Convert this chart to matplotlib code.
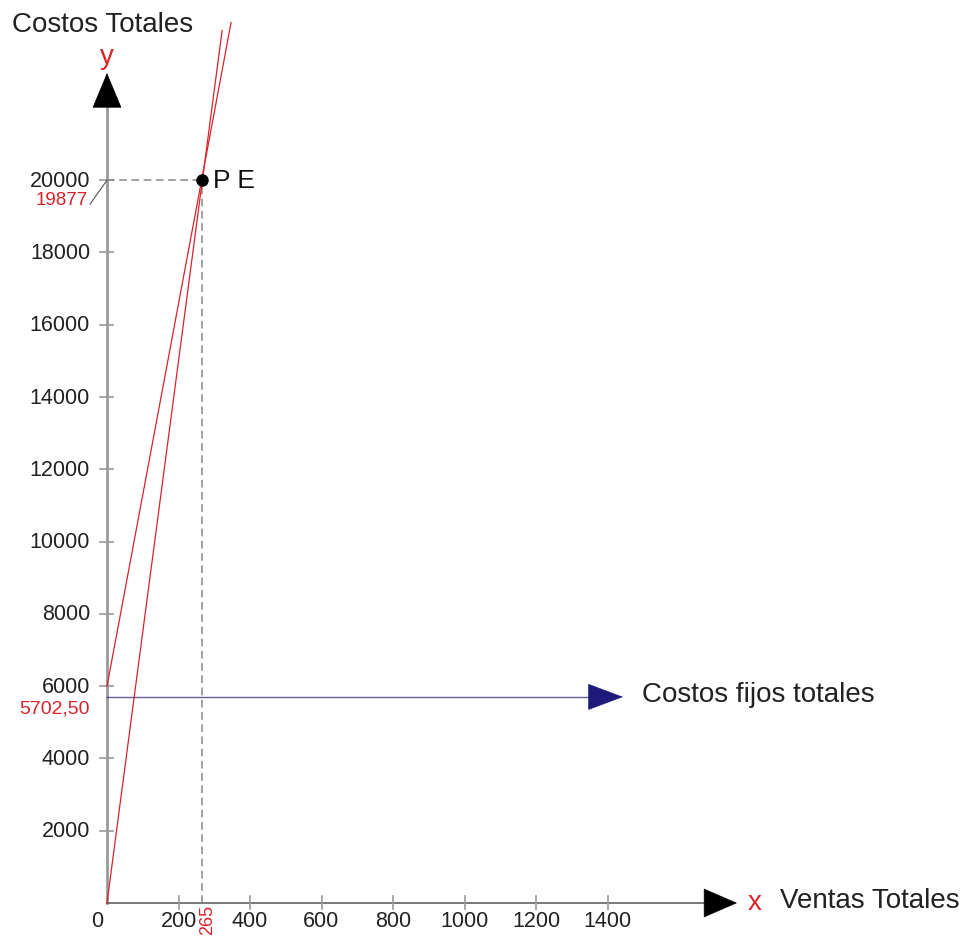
import matplotlib.pyplot as plt

plt.rcParams['font.family'] = ['Liberation Sans', 'DejaVu Sans']

# ---- data ----
x_ticks = [200, 400, 600, 800, 1000, 1200, 1400]
y_ticks = [2000, 4000, 6000, 8000, 10000, 12000, 14000, 16000, 18000, 20000]

costos_fijos = 5702.50          # labelled value of fixed costs
pe_x, pe_y = 265, 19877         # break-even point (labelled)
pe_mark_y = 20000               # where the dot / dashed guide is drawn

# the two red lines (start and end as drawn)
ingresos_x = [0, 322]
ingresos_y = [0, 24140]
costos_x = [0, 347]
costos_y = [6000, 24360]

RED = '#d8232a'
GREY = '#9a9a9a'
NAVY = '#1e1a7a'

# pixel scale of the drawing: origin at (107, 904) px
kx = 0.3575
ky = 0.03614
W, H = 966, 937
ox, oy = 107, H - 904

fig = plt.figure(figsize=(W / 100, H / 100), dpi=100)
ax = fig.add_axes([0, 0, 1, 1])
ax.set_xlim(-ox / kx, (W - ox) / kx)
ax.set_ylim(-oy / ky, (H - oy) / ky)
ax.axis('off')

def px(dx):   # pixel offset in x -> data
    return dx / kx

def py(dy):   # pixel offset in y -> data
    return dy / ky

# ---- axes with arrows ----
y_top = py(904 - 99)
x_end = px(713 - 107)
ax.plot([0, 0], [0, y_top], color=GREY, lw=2, zorder=2)
ax.plot([0, x_end], [0, 0], color='#555555', lw=1.1, zorder=2)
ax.annotate('', xy=(0, py(904 - 74)), xytext=(0, y_top - py(2)),
            arrowprops=dict(arrowstyle='-|>,head_length=1.2,head_width=0.5',
                            color='black', lw=0.5, mutation_scale=20,
                            shrinkA=0, shrinkB=0))
ax.annotate('', xy=(px(737 - 107), 0), xytext=(x_end - px(2), 0),
            arrowprops=dict(arrowstyle='-|>,head_length=1.15,head_width=0.5',
                            color='black', lw=0.5, mutation_scale=20,
                            shrinkA=0, shrinkB=0))

# ticks
for t in y_ticks:
    ax.plot([px(-7), px(6)], [t, t], color=GREY, lw=1.2, zorder=2)
    ax.text(px(-17), t, str(t), ha='right', va='center', fontsize=15.5, color='#222222')
for t in x_ticks:
    ax.plot([t, t], [py(-6), py(7)], color=GREY, lw=1.2, zorder=2)
    ax.text(t, py(-18), str(t), ha='center', va='center', fontsize=15.5, color='#222222')
ax.text(px(-10), py(-18), '0', ha='center', va='center', fontsize=15.5, color='#222222')

# ---- fixed costs line ----
blue_end = px(598 - 107)
ax.plot([0, blue_end], [costos_fijos, costos_fijos], color=NAVY, lw=1, alpha=0.7, zorder=2)
ax.annotate('', xy=(px(623 - 107), costos_fijos), xytext=(blue_end - px(2), costos_fijos),
            arrowprops=dict(arrowstyle='-|>,head_length=1.2,head_width=0.45',
                            color=NAVY, lw=0.5, mutation_scale=20,
                            shrinkA=0, shrinkB=0))
ax.text(px(642 - 107), costos_fijos + py(3), 'Costos fijos totales',
        ha='left', va='center', fontsize=20, color='#222222')
ax.text(px(-17), costos_fijos - py(11), '5702,50', ha='right', va='center',
        fontsize=14, color=RED)

# ---- red lines ----
ax.plot(ingresos_x, ingresos_y, color=RED, lw=0.9, zorder=3)
ax.plot(costos_x, costos_y, color=RED, lw=0.9, zorder=3)

# ---- break-even guides ----
ax.plot([0, pe_x], [pe_mark_y, pe_mark_y], color='#888888', lw=1.1,
        ls=(0, (5, 3)), zorder=2)
ax.plot([pe_x, pe_x], [0, pe_mark_y], color='#888888', lw=1.1,
        ls=(0, (5, 3)), zorder=2)
ax.plot([pe_x], [pe_mark_y], 'o', color='black', markersize=8, zorder=4)
ax.text(pe_x + px(11), pe_mark_y, 'P E', ha='left', va='center', fontsize=19,
        color='#111111')

# 19877 with leader line
ax.plot([px(-17), 0], [pe_mark_y - py(24), pe_mark_y], color='#555555', lw=0.8)
ax.text(px(-19), pe_mark_y - py(19), str(pe_y), ha='right', va='center',
        fontsize=13.5, color=RED)

# 265 under the x axis
ax.text(pe_x + px(6), py(-1), str(pe_x), ha='center', va='top', rotation=90,
        fontsize=13, color=RED)

# ---- axis titles ----
ax.text(0, py(904 - 57), 'y', ha='center', va='center', fontsize=20, color=RED)
ax.text(px(12 - 107), py(904 - 25), 'Costos Totales', ha='left', va='center',
        fontsize=20, color='#222222')
ax.text(px(755 - 107), py(1), 'x', ha='center', va='center', fontsize=20, color=RED)
ax.text(px(780 - 107), py(3), 'Ventas Totales', ha='left', va='center',
        fontsize=20, color='#222222')

plt.savefig('out.png', dpi=100)
